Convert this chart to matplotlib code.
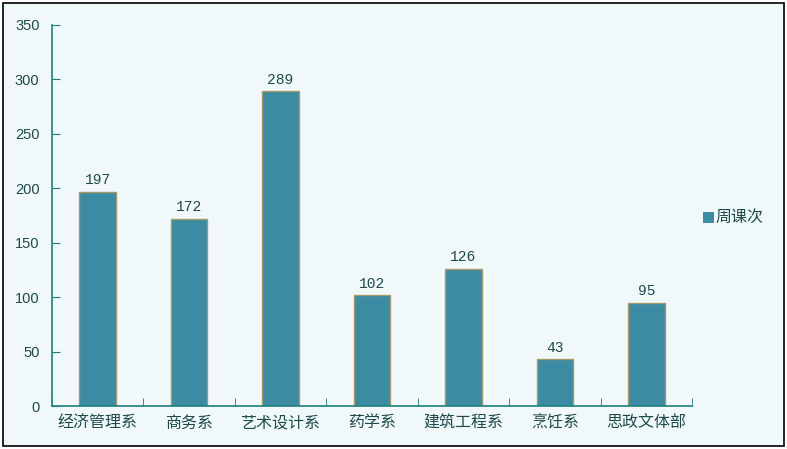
import matplotlib
matplotlib.use("Agg")
import matplotlib.pyplot as plt
from matplotlib.patches import Rectangle

categories = ["经济管理系", "商务系", "艺术设计系", "药学系", "建筑工程系", "烹饪系", "思政文体部"]
values = [197, 172, 289, 102, 126, 43, 95]
series_name = "周课次"
yticks = [0, 50, 100, 150, 200, 250, 300, 350]

W, H = 787, 449
fig = plt.figure(figsize=(W / 100, H / 100), dpi=100)
fig.patch.set_facecolor("white")

# chart area with border
fig.patches.append(Rectangle((3 / W, 3 / H), 781 / W, 443 / H, transform=fig.transFigure,
                             facecolor="#F0F8FA", edgecolor="black", linewidth=1.2, zorder=-5))

ax = fig.add_axes([52 / W, 43 / H, 640 / W, 381 / H])
ax.set_zorder(1)
ax.set_facecolor("none")
cjk = ["Noto Sans CJK SC", "DejaVu Sans"]
axis_col = "#1C7F7F"
text_col = "#1F4A4A"

x = list(range(len(categories)))
bars = ax.bar(x, values, width=0.4, color="#3B8CA3", edgecolor="#A89868", linewidth=1.0, zorder=2)
for xi, v in zip(x, values):
    ax.text(xi, v + 4, str(v), ha="center", va="bottom", fontsize=10.5,
            family="Liberation Mono", color=text_col)

ax.set_xlim(-0.5, len(categories) - 0.5)
ax.set_ylim(0, 350)
ax.set_yticks(yticks)
ax.set_yticklabels([str(t) for t in yticks], family="Liberation Sans", fontsize=10.5, color=text_col)
ax.set_xticks(x)
ax.set_xticklabels(categories, family=cjk, fontsize=11.5, color=text_col)
ax.tick_params(axis="x", length=0, pad=6)
ax.tick_params(axis="y", direction="in", length=6, color=axis_col, pad=9)
# category boundary ticks
ax.set_xticks([i + 0.5 for i in range(-1, len(categories))], minor=True)
ax.tick_params(axis="x", which="minor", direction="in", length=6, color=axis_col)

for s in ["top", "right"]:
    ax.spines[s].set_visible(False)
for s in ["left", "bottom"]:
    ax.spines[s].set_color(axis_col)
    ax.spines[s].set_linewidth(1.2)

# legend
fig.patches.append(Rectangle((703 / W, (H - 223) / H), 11 / W, 11 / H, transform=fig.transFigure,
                             facecolor="#3B8CA3", edgecolor="none", zorder=3))
fig.text(715 / W, (H - 217) / H, series_name, family=cjk, fontsize=11.5, color=text_col,
         va="center", ha="left")

fig.savefig("out.png", dpi=100, facecolor="white")
